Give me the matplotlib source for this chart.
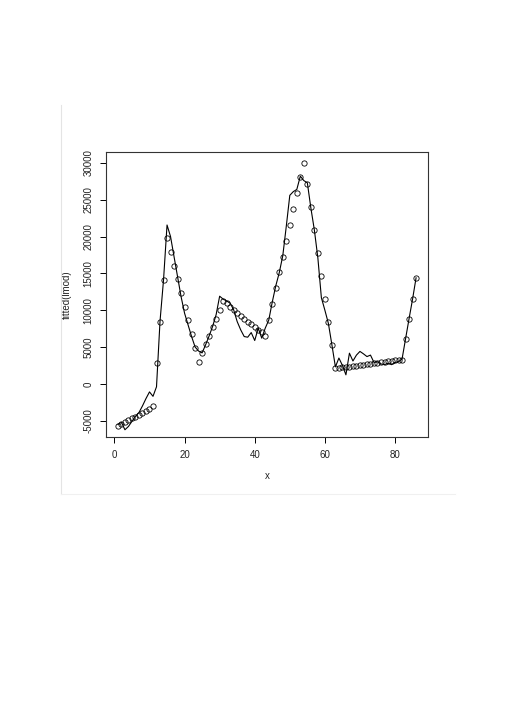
import matplotlib
matplotlib.use("Agg")
import matplotlib.pyplot as plt
from matplotlib.lines import Line2D
import numpy as np

plt.rcParams['font.family'] = ['Liberation Sans', 'DejaVu Sans']

x = list(range(1, 87))

fitted = [-5790, -5470, -5200, -4930, -4710, -4440, -4210, -3930, -3700, -3430,
          -2950, 2800, 8450, 14100, 19770, 17870, 16000, 14200, 12300, 10500,
          8680, 6780, 4840, 3030, 4160, 5430, 6510, 7690, 8820, 10040,
          11200, 10950, 10490, 10000, 9670, 9270, 8820, 8450, 8100, 7730,
          7330, 7010, 6550, 8700, 10850, 13050, 15150, 17270, 19450, 21570,
          23700, 25900, 28050, 30050, 27100, 23980, 20850, 17730, 14610, 11490,
          8380, 5290, 2150, 2200, 2250, 2300, 2350, 2420, 2480, 2550,
          2600, 2670, 2730, 2800, 2860, 2920, 2980, 3050, 3100, 3170,
          3230, 3300, 6100, 8840, 11500, 14400]

observed = [-5500, -5250, -6240, -5790, -5100, -4430, -3900, -3000, -2000, -1100,
            -1700, -400, 8500, 14100, 21570, 20000, 17270, 14560, 11850, 9590,
            8000, 6420, 5000, 4450, 4200, 5300, 6500, 7800, 9400, 11900,
            11500, 11250, 10950, 10040, 8450, 7330, 6420, 6330, 6960, 5880,
            7560, 6200, 7560, 8650, 11100, 13300, 15100, 17400, 21400, 25600,
            26100, 26400, 28200, 27600, 27300, 23900, 20900, 17100, 11700, 10000,
            8200, 5300, 2300, 3500, 2500, 1220, 4160, 3100, 3900, 4400,
            4070, 3700, 3900, 2900, 3000, 2700, 2600, 2800, 2600, 2900,
            3000, 3350, 6100, 8840, 11500, 14400]

xticks = [0, 20, 40, 60, 80]
yticks = [-5000, 0, 5000, 10000, 15000, 20000, 25000, 30000]

W, H = 512, 725
fig = plt.figure(figsize=(W / 100, H / 100), dpi=100)
L, R, T, B = 106, 428, 152, 437
ax = fig.add_axes([L / W, 1 - B / H, (R - L) / W, (B - T) / H])

ax.plot(x, fitted, linestyle='none', marker='o', markersize=3.8,
        markerfacecolor='none', markeredgecolor='black', markeredgewidth=0.6)
ax.plot(x, observed, color='black', linewidth=0.8)

# R-style 4% axis extension
xr = max(x) - min(x)
ax.set_xlim(min(x) - 0.04 * xr, max(x) + 0.04 * xr)
yr = max(fitted) - min(fitted)
ax.set_ylim(min(fitted) - 0.04 * yr, max(fitted) + 0.04 * yr)

ax.set_xticks(xticks)
ax.set_xticklabels([str(t) for t in xticks])
ax.set_yticks(yticks)
ax.set_yticklabels([str(t) for t in yticks], rotation=90, va='center')

ax.tick_params(axis='both', direction='out', length=4.3, width=0.7,
               labelsize=7, colors='black', labelcolor='#222222')
ax.tick_params(axis='x', pad=5)
ax.tick_params(axis='y', pad=4.5)
for s in ax.spines.values():
    s.set_linewidth(0.8)
    s.set_color('#333333')

ax.set_xlabel('x', fontsize=7, color='#222222')
ax.set_ylabel('fitted(lmod)', fontsize=7, color='#222222')
ax.xaxis.set_label_coords(0.5, (B - 471) / (B - T))
ax.yaxis.set_label_coords((72 - L) / (R - L), 0.5)

# faint page border lines
fig.add_artist(Line2D([61 / W, 61 / W], [1 - 105 / H, 1 - 494 / H],
                      color='#e4e4e4', linewidth=0.8, transform=fig.transFigure))
fig.add_artist(Line2D([61 / W, 455 / W], [1 - 494 / H, 1 - 494 / H],
                      color='#f0f0f0', linewidth=0.8, transform=fig.transFigure))

fig.savefig('out.png', dpi=100)
